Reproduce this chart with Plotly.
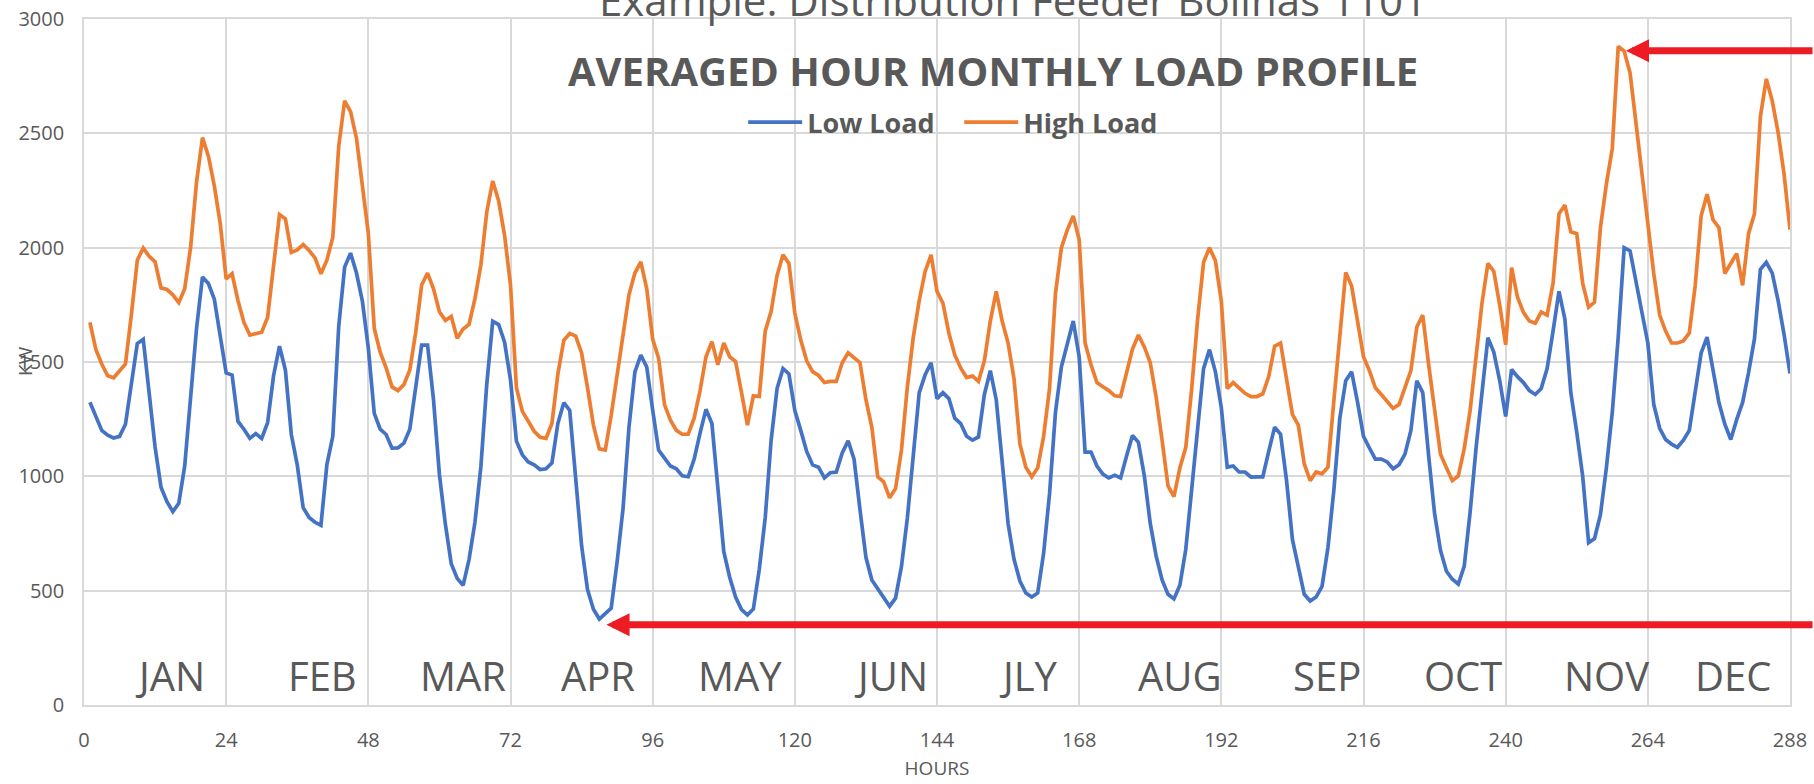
import plotly.graph_objects as go

hours = list(range(1, 289))

low_load = [
    1324, 1258, 1201, 1180, 1168, 1175, 1228, 1405, 1581, 1599, 1353, 1128, 952, 889, 846, 882, 1045, 1336, 1647, 1872, 1843, 1775, 1612, 1452,
    1443, 1240, 1206, 1166, 1187, 1166, 1235, 1440, 1569, 1465, 1183, 1050, 863, 820, 799, 786, 1050, 1175, 1656, 1915, 1976, 1889, 1765, 1561,
    1275, 1206, 1183, 1123, 1124, 1145, 1206, 1388, 1574, 1574, 1336, 1008, 791, 618, 554, 523, 636, 799, 1042, 1405, 1678, 1664, 1587, 1422,
    1154, 1094, 1063, 1050, 1030, 1033, 1059, 1232, 1322, 1288, 973, 697, 505, 419, 376, 402, 424, 627, 860, 1214, 1457, 1530, 1478, 1290,
    1115, 1080, 1045, 1033, 1002, 998, 1075, 1189, 1293, 1231, 958, 672, 559, 472, 417, 394, 420, 594, 819, 1158, 1384, 1471, 1448, 1288,
    1201, 1109, 1050, 1040, 993, 1016, 1019, 1102, 1155, 1075, 854, 646, 547, 507, 467, 432, 467, 606, 819, 1115, 1366, 1444, 1497, 1340,
    1366, 1340, 1254, 1231, 1175, 1158, 1172, 1358, 1462, 1335, 1054, 794, 637, 542, 490, 472, 490, 663, 924, 1280, 1479, 1575, 1679, 1523,
    1106, 1106, 1045, 1010, 993, 1005, 993, 1089, 1179, 1149, 1002, 794, 651, 547, 484, 464, 524, 681, 941, 1236, 1471, 1554, 1457, 1300,
    1040, 1045, 1019, 1019, 997, 998, 998, 1109, 1215, 1184, 984, 724, 603, 484, 455, 472, 519, 689, 941, 1254, 1418, 1457, 1323, 1175,
    1124, 1075, 1075, 1063, 1033, 1051, 1097, 1201, 1418, 1366, 1089, 837, 676, 585, 550, 529, 606, 844, 1123, 1358, 1606, 1543, 1418, 1262,
    1467, 1436, 1410, 1375, 1358, 1384, 1471, 1635, 1809, 1687, 1366, 1193, 1002, 710, 728, 832, 1037, 1280, 1609, 2000, 1986, 1852, 1714, 1583,
    1314, 1210, 1161, 1141, 1127, 1158, 1201, 1366, 1540, 1609, 1471, 1323, 1228, 1161, 1248, 1323, 1453, 1601, 1905, 1936, 1889, 1767, 1620, 1450,
]

high_load = [
    1673, 1555, 1491, 1440, 1431, 1460, 1491, 1708, 1945, 1998, 1962, 1938, 1824, 1817, 1794, 1760, 1820, 2002, 2287, 2481, 2400, 2270, 2106, 1863,
    1886, 1768, 1673, 1618, 1626, 1630, 1696, 1924, 2145, 2126, 1979, 1990, 2014, 1988, 1955, 1886, 1945, 2045, 2443, 2642, 2595, 2478, 2270, 2062,
    1647, 1543, 1474, 1391, 1375, 1401, 1465, 1630, 1837, 1889, 1820, 1720, 1682, 1699, 1604, 1644, 1664, 1777, 1924, 2157, 2292, 2204, 2054, 1837,
    1388, 1284, 1241, 1197, 1171, 1166, 1232, 1448, 1595, 1625, 1613, 1540, 1388, 1224, 1120, 1115, 1267, 1448, 1630, 1794, 1889, 1938, 1820, 1600,
    1517, 1314, 1245, 1201, 1184, 1184, 1254, 1375, 1523, 1589, 1488, 1583, 1523, 1502, 1366, 1224, 1352, 1349, 1635, 1722, 1878, 1969, 1931, 1714,
    1596, 1505, 1458, 1441, 1410, 1415, 1415, 1497, 1540, 1519, 1497, 1335, 1214, 998, 976, 906, 946, 1115, 1392, 1609, 1769, 1896, 1969, 1809,
    1757, 1627, 1531, 1474, 1432, 1439, 1415, 1505, 1679, 1809, 1679, 1583, 1427, 1141, 1040, 998, 1037, 1175, 1384, 1800, 2000, 2078, 2139, 2035,
    1583, 1488, 1410, 1392, 1375, 1352, 1349, 1453, 1557, 1618, 1566, 1497, 1346, 1158, 958, 911, 1037, 1127, 1384, 1688, 1936, 2000, 1943, 1766,
    1384, 1410, 1387, 1363, 1349, 1349, 1361, 1436, 1569, 1583, 1427, 1271, 1224, 1054, 981, 1019, 1011, 1040, 1332, 1609, 1892, 1832, 1679, 1523,
    1462, 1387, 1358, 1328, 1297, 1314, 1384, 1462, 1653, 1705, 1488, 1300, 1097, 1037, 981, 1002, 1120, 1288, 1523, 1757, 1931, 1896, 1748, 1575,
    1913, 1783, 1717, 1679, 1670, 1719, 1705, 1844, 2148, 2186, 2069, 2061, 1844, 1740, 1762, 2087, 2278, 2434, 2880, 2860, 2764, 2547, 2304, 2113,
    1887, 1705, 1635, 1583, 1583, 1592, 1627, 1835, 2139, 2234, 2122, 2087, 1887, 1931, 1974, 1835, 2061, 2148, 2573, 2738, 2642, 2503, 2322, 2079,
]

months = ["JAN", "FEB", "MAR", "APR", "MAY", "JUN", "JLY", "AUG", "SEP", "OCT", "NOV", "DEC"]
month_label_hours = [14.5, 40.2, 63.9, 86.8, 110.8, 136.2, 159.4, 185.0, 209.8, 232.8, 257.0, 278.3]

x_ticks = list(range(0, 289, 24))
y_ticks = list(range(0, 3001, 500))

# points the red arrows indicate (hour, kW)
peak_point = (260.3, 2861)
min_point = (88.2, 351)

GRAY = "#595959"
GRID = "#D9D9D9"
FONT = "Open Sans"

fig = go.Figure()
fig.add_trace(go.Scatter(x=hours, y=low_load, mode="lines", name="Low Load",
                         line=dict(color="#4472C4", width=3.7)))
fig.add_trace(go.Scatter(x=hours, y=high_load, mode="lines", name="High Load",
                         line=dict(color="#ED7D31", width=3.7)))

annotations = []
for m, h in zip(months, month_label_hours):
    annotations.append(dict(x=h, y=130, xref="x", yref="y", text=m, showarrow=False,
                            xanchor="center", yanchor="middle",
                            font=dict(family=FONT, size=40, color=GRAY)))

annotations += [
    dict(x=0.5446, y=1.028, xref="paper", yref="paper",
         text="Example: Distribution Feeder Bolinas 1101", showarrow=False,
         xanchor="center", yanchor="middle",
         font=dict(family=FONT, size=42, color=GRAY)),
    dict(x=0.533, y=0.925, xref="paper", yref="paper",
         text="AVERAGED HOUR MONTHLY LOAD PROFILE", showarrow=False,
         xanchor="center", yanchor="middle",
         font=dict(family=FONT, size=40, color=GRAY, weight="bold")),
    dict(x=-0.035, y=0.502, xref="paper", yref="paper", text="KW", textangle=-90,
         showarrow=False, xanchor="center", yanchor="middle",
         font=dict(family=FONT, size=19, color=GRAY)),
    dict(x=peak_point[0], y=peak_point[1], xref="x", yref="y", text="",
         showarrow=True, arrowhead=2, arrowsize=0.66, arrowwidth=7, arrowcolor="#ED1C24",
         ax=200, ay=0, axref="pixel", ayref="pixel", standoff=0),
    dict(x=min_point[0], y=min_point[1], xref="x", yref="y", text="",
         showarrow=True, arrowhead=2, arrowsize=0.66, arrowwidth=7, arrowcolor="#ED1C24",
         ax=1220, ay=0, axref="pixel", ayref="pixel", standoff=0),
]

fig.update_layout(
    width=1814, height=784,
    margin=dict(l=84, r=24, t=19, b=79, autoexpand=False),
    paper_bgcolor="white", plot_bgcolor="white",
    font=dict(family=FONT, color=GRAY),
    showlegend=True,
    legend=dict(orientation="h", x=0.513, y=0.849, xanchor="center", yanchor="middle",
                itemwidth=54, entrywidth=147, entrywidthmode="pixels",
                bgcolor="rgba(0,0,0,0)",
                font=dict(family=FONT, size=27, color=GRAY, weight="bold")),
    annotations=annotations,
    xaxis=dict(range=[0, 288], tickmode="array", tickvals=x_ticks, automargin=False,
               showgrid=True, gridcolor=GRID, gridwidth=1.6,
               showline=True, linecolor=GRID, linewidth=1.6, mirror=True,
               zeroline=False, ticks="", ticklabelstandoff=16,
               tickfont=dict(family=FONT, size=20, color=GRAY),
               title=dict(text="HOURS", standoff=10,
                          font=dict(family=FONT, size=19, color=GRAY))),
    yaxis=dict(range=[0, 3000], tickmode="array", tickvals=y_ticks, automargin=False,
               showgrid=True, gridcolor=GRID, gridwidth=1.6,
               showline=True, linecolor=GRID, linewidth=1.6, mirror=True,
               zeroline=False, ticks="", ticklabelstandoff=14,
               tickfont=dict(family=FONT, size=20, color=GRAY)),
)

fig.write_html("out.html", config={"displayModeBar": False},
               post_script="document.body.style.margin='0';document.body.style.overflow='hidden';")
